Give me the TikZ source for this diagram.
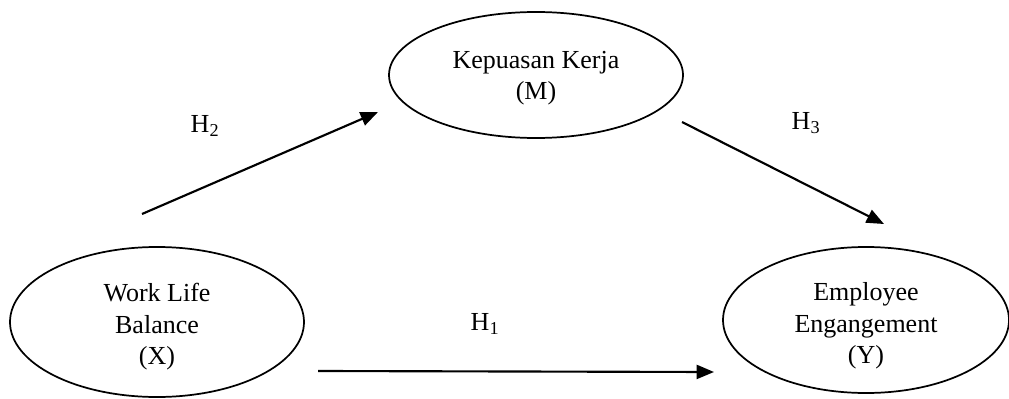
\documentclass[tikz,border=0pt]{standalone}
\usepackage{fontspec}
\setmainfont{Liberation Serif}
\usetikzlibrary{shapes.geometric,arrows.meta}
\begin{document}
\begin{tikzpicture}[x=0.75pt,y=-0.75pt,
  var/.style={draw,ellipse,line width=1.3pt,inner sep=0pt},
  vtext/.style={inner sep=0pt,align=center,font=\fontsize{19.5}{23.6}\selectfont},
  conn/.style={line width=1.6pt,-{Triangle[length=13pt,width=10.5pt]}},
  hlab/.style={font=\fontsize{19.5}{23.6}\selectfont}]
\useasboundingbox (0,0) rectangle (1009,399);
\node[var,minimum width=294*0.75pt,minimum height=126*0.75pt] (M) at (536,75) {};
\node[var,minimum width=294*0.75pt,minimum height=150*0.75pt] (X) at (157,322) {};
\node[var,minimum width=286*0.75pt,minimum height=146*0.75pt] (Y) at (866,320) {};
\node[vtext] (Mt) at ([yshift=-2.25pt]M.center) {Kepuasan Kerja\\(M)};
\node[vtext] (Xt) at ([yshift=-3.75pt]X.center) {Work Life\\Balance\\(X)};
\node[vtext] (Yt) at ([yshift=-4.5pt]Y.center) {Employee\\Engangement\\(Y)};
\coordinate (a2s) at (142,214);
\coordinate (a2e) at (378,112);
\coordinate (a3s) at (682,122);
\coordinate (a3e) at (884,224);
\coordinate (a1s) at (318,371);
\coordinate (a1e) at (714,372);
\draw[conn] (a2s) -- (a2e);
\draw[conn] (a3s) -- (a3e);
\draw[conn] (a1s) -- (a1e);
\node[hlab] (h2) at (205,126) {H\textsubscript{2}};
\node[hlab] (h3) at (806,123) {H\textsubscript{3}};
\node[hlab] (h1) at (485,324) {H\textsubscript{1}};
\end{tikzpicture}
\end{document}
